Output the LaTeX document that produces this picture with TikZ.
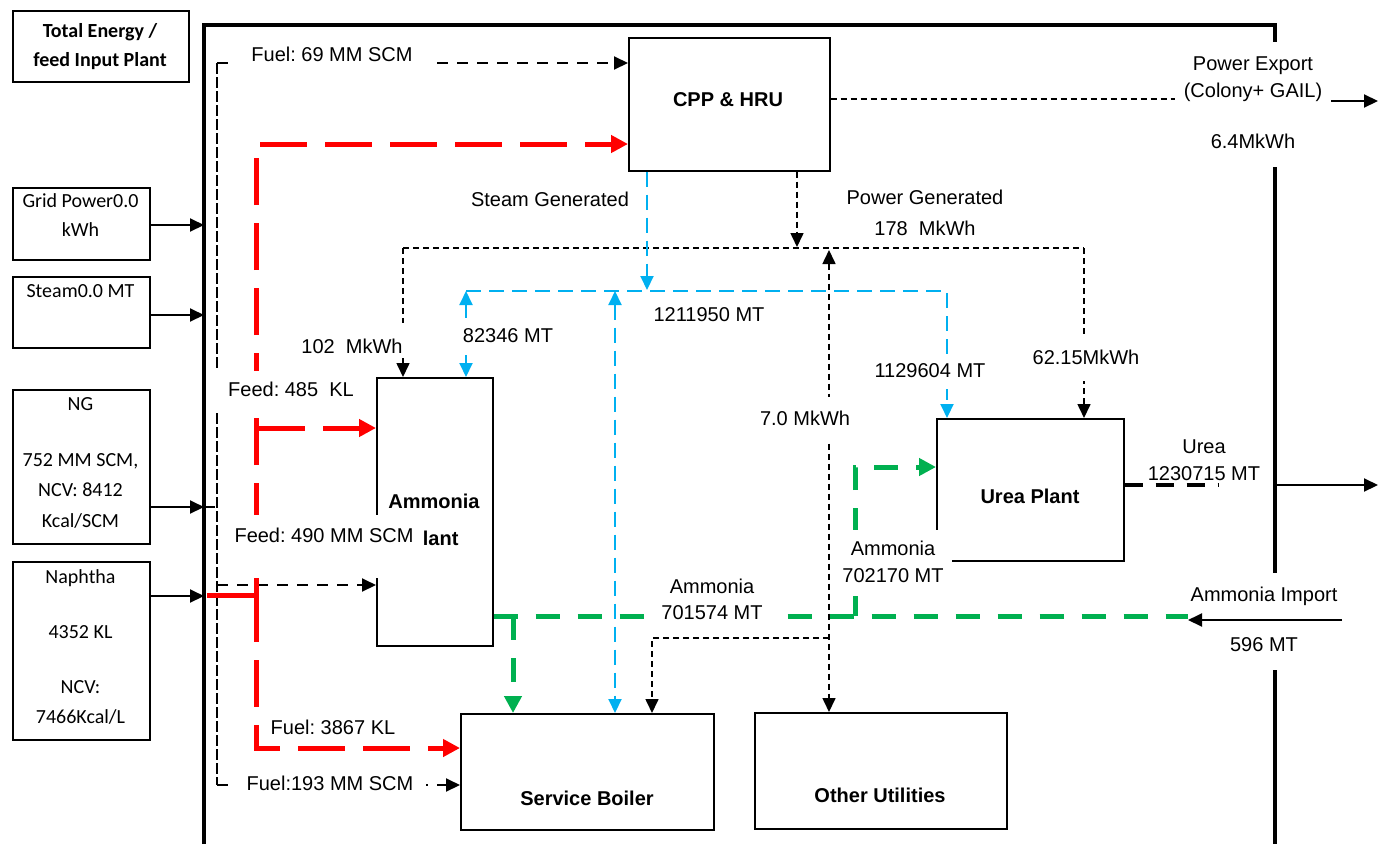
\documentclass[tikz,border=0pt]{standalone}
\usepackage{fontspec}
\setmainfont{Liberation Sans}
\newfontfamily\arifont{Liberation Sans}
\newfontfamily\calfont{Carlito}
\usetikzlibrary{arrows.meta}
\definecolor{xred}{RGB}{255,0,0}
\definecolor{xgreen}{RGB}{0,176,80}
\definecolor{xblue}{RGB}{0,176,240}
\newcommand\arif{\arifont\fontsize{20}{24}\selectfont}
\newcommand\calf{\calfont\fontsize{20}{24}\selectfont}
\frenchspacing
\begin{document}
\begin{tikzpicture}[x=1pt,y=-1pt,
  box/.style={draw, line width=1.6pt, inner sep=0pt},
  lab/.style={font=\arif, anchor=base, inner sep=2pt, text height=15pt, text depth=4pt},
  wl/.style={lab, fill=white},
  btxt/.style={font=\arif\bfseries, anchor=base, inner sep=0pt},
  ctxt/.style={font=\calf, anchor=base, inner sep=0pt},
  fuelh/.style={line width=2pt, dash pattern=on 11pt off 9pt},
  fuelv/.style={line width=1.3pt, dash pattern=on 11pt off 3pt},
  redl/.style={xred, line width=5pt, dash pattern=on 47pt off 18pt},
  grnl/.style={xgreen, line width=5pt, dash pattern=on 24pt off 18pt},
  blul/.style={xblue, line width=2pt, dash pattern=on 15pt off 8pt},
  pwrl/.style={line width=1.6pt, dash pattern=on 6pt off 4pt},
  prodl/.style={line width=4pt, dash pattern=on 18pt off 13pt},
  sol/.style={line width=2pt},
  ta/.style={-{Triangle[length=14pt,width=13pt]}},
  tb/.style={{Triangle[length=14pt,width=13pt]}-{Triangle[length=14pt,width=13pt]}},
  tA/.style={-{Triangle[length=17pt,width=17pt]}}
]
\useasboundingbox (0,0) rectangle (1378,844);

% ---------- frame ----------
\draw[line width=4pt] (204,844) -- (204,25) -- (1275,25) -- (1275,42);
\draw[line width=4pt] (1275,167) -- (1275,573);
\draw[line width=4pt] (1275,670) -- (1275,844);

% ---------- boxes ----------
\node[box, anchor=north west, minimum width=176pt, minimum height=71pt] (te) at (12,10) {};
\node[box, anchor=north west, minimum width=137pt, minimum height=72pt] (grid) at (12,187) {};
\node[box, anchor=north west, minimum width=137pt, minimum height=71pt] (stm) at (12,276) {};
\node[box, anchor=north west, minimum width=137pt, minimum height=154pt] (ng) at (12,389) {};
\node[box, anchor=north west, minimum width=137pt, minimum height=178pt] (nap) at (12,561) {};
\node[box, anchor=north west, minimum width=201pt, minimum height=133pt] (cpp) at (628,37) {};
\node[box, anchor=north west, minimum width=116pt, minimum height=268pt] (amm) at (376,377) {};
\node[box, anchor=north west, minimum width=187pt, minimum height=142pt] (urea) at (936,418) {};
\node[box, anchor=north west, minimum width=253pt, minimum height=116pt] (sb) at (460,713) {};
\node[box, anchor=north west, minimum width=252pt, minimum height=116pt] (ou) at (754,712) {};

% ---------- box texts ----------
\node[ctxt, font=\calf\bfseries] (t1) at (100,37) {Total Energy /};
\node[ctxt, font=\calf\bfseries] (t2) at (100,66) {feed Input Plant};
\node[ctxt] (g1) at (80.5,207) {Grid Power0.0};
\node[ctxt] (g2) at (80.5,236) {kWh};
\node[ctxt] (s1) at (80.5,297) {Steam0.0 MT};
\node[ctxt] (n1) at (80.5,410) {NG};
\node[ctxt] (n2) at (80.5,466) {752 MM SCM,};
\node[ctxt] (n3) at (80.5,496) {NCV: 8412};
\node[ctxt] (n4) at (80.5,527) {Kcal/SCM};
\node[ctxt] (p1) at (80.5,583) {Naphtha};
\node[ctxt] (p2) at (80.5,638) {4352 KL};
\node[ctxt] (p3) at (80.5,693) {NCV:};
\node[ctxt] (p4) at (80.5,723) {7466Kcal/L};
\node[btxt] (cpptx) at (728,106) {CPP \& HRU};
\node[btxt] (ammtx1) at (434,508) {Ammonia};
\node[btxt] (ammtx2) at (434,545) {Plant};
\node[btxt] (ureatx) at (1030,503) {Urea Plant};
\node[btxt] (sbtx) at (587,805) {Service Boiler};
\node[btxt] (outx) at (880,802) {Other Utilities};

% ---------- coordinates ----------
\coordinate (fg) at (204,225);
\coordinate (fs) at (204,315);
\coordinate (fng) at (204,507);
\coordinate (fn) at (204,596);
\coordinate (fv1) at (217,63);
\coordinate (fv2) at (217,585);
\coordinate (fv3) at (217,785);
\coordinate (ri) at (207,595);
\coordinate (rj) at (256,595);
\coordinate (rt) at (256,144);
\coordinate (rf) at (258,428);
\coordinate (rb) at (256,748);
\coordinate (pd) at (797,247);
\coordinate (ph1) at (403,248);
\coordinate (ph2) at (1084,248);
\coordinate (pu) at (829,250);
\coordinate (pb) at (829,638);
\coordinate (psb) at (652,638);
\coordinate (pe1) at (1175,99);
\coordinate (pe2) at (1331,101);
\coordinate (pe3) at (1378,101);
\coordinate (bs) at (647,290);
\coordinate (bh1) at (466,291);
\coordinate (bh2) at (947,291);
\coordinate (bm) at (615,291);
\coordinate (gj1) at (513,616);
\coordinate (gj2) at (855,616);
\coordinate (gu) at (855,467);
\coordinate (ge) at (1188,616);
\coordinate (ai) at (1342,620);
\coordinate (uo) at (1218,485);
\coordinate (ur1) at (1275,485);
\coordinate (ur2) at (1378,485);

% ---------- input arrows ----------
\draw[sol, ta] (grid.east |- fg) -- (fg);
\draw[sol, ta] (stm.east |- fs) -- (fs);
\draw[sol, ta] (ng.east |- fng) -- (fng);
\draw[sol, ta] (nap.east |- fn) -- (fn);

% ---------- natural gas (black dashed) ----------
\draw[fuelv] (fng) -- (fng -| fv1);
\draw[fuelv] (fv1) -- (fv3);
\draw[fuelh, ta] (fv1) -- (cpp.west |- fv1);
\draw[fuelh, ta] (fv2) -- (amm.west |- fv2);
\draw[fuelh, ta] (fv3) -- (sb.west |- fv3);

% ---------- naphtha (red) ----------
\draw[redl] (ri) -- (rj);
\draw[redl, tA] (rj) -- (rt) -- (cpp.west |- rt);
\draw[redl, tA] (rf) -- (amm.west |- rf);
\draw[redl, tA] (rj) -- (rb) -- (sb.west |- rb);

% ---------- power (black dashed) ----------
\draw[pwrl, ta] (cpp.south -| pd) -- (pd);
\draw[pwrl] (ph1) -- (ph2);
\draw[pwrl, ta] (ph1) -- (amm.north -| ph1);
\draw[pwrl, ta] (ph2) -- (urea.north -| ph2);
\draw[pwrl, tb] (pu) -- (ou.north -| pu);
\draw[pwrl, ta] (pb) -- (psb) -- (sb.north -| psb);
\draw[pwrl] (cpp.east |- pe1) -- (pe1);
\draw[sol, ta] (pe2) -- (pe3);

% ---------- steam (blue) ----------
\draw[blul, ta] (cpp.south -| bs) -- (bs);
\draw[blul, ta] (bh1) -- (bh2) -- (urea.north -| bh2);
\draw[blul, tb] (bh1) -- (amm.north -| bh1);
\draw[blul, tb] (bm) -- (sb.north -| bm);

% ---------- ammonia (green) ----------
\draw[grnl] (amm.east |- gj1) -- (ge);
\draw[grnl, tA] (gj1) -- (sb.north -| gj1);
\draw[grnl, tA] (gj2) -- (gu) -- (urea.west |- gu);
\draw[sol, ta] (ai) -- (ai -| ge);

% ---------- urea product ----------
\draw[prodl] (urea.east |- uo) -- (uo);
\draw[sol, ta] (ur1) -- (ur2);

% ---------- labels ----------
\node[wl, inner xsep=17pt] (l1) at (332,61) {Fuel: 69 MM SCM};
\node[wl, inner xsep=14pt, inner ysep=10pt] (l2) at (291,396) {Feed: 485~ KL};
\node[wl, inner xsep=10pt, inner ysep=12pt, text depth=24pt] (l3) at (324,542) {Feed: 490 MM SCM};
\node[wl] (l4) at (333,734) {Fuel: 3867 KL};
\node[wl, inner xsep=13pt] (l5) at (330,790) {Fuel:193 MM SCM};
\node[lab] (l6) at (550,206) {Steam Generated};
\node[lab] (l7) at (925,204) {Power Generated};
\node[lab] (l8) at (925,235) {178~ MkWh};
\node[lab] (l9) at (1253,70) {Power Export};
\node[lab] (l10) at (1253,97) {(Colony+ GAIL)};
\node[lab] (l11) at (1253,148) {6.4MkWh};
\node[wl, inner ysep=9pt] (l12) at (508,342) {82346 MT};
\node[wl] (l13) at (709,321) {1211950 MT};
\node[wl, inner ysep=13pt] (l14) at (805,425) {7.0 MkWh};
\node[wl, inner ysep=8pt] (l15) at (930,377) {1129604 MT};
\node[wl, inner ysep=13pt] (l16) at (1086,364) {62.15MkWh};
\node[wl, inner ysep=3pt, inner xsep=3pt, text height=27pt, text depth=0pt] (l17) at (352,353) {102~ MkWh};
\node[lab] (l18) at (1204,453) {Urea};
\node[lab] (l19) at (1204,480) {1230715 MT};
\node[wl, inner xsep=12pt, inner ysep=10pt] (l20) at (893,555) {Ammonia};
\node[wl, inner xsep=8pt, inner ysep=10pt] (l21) at (893,582) {702170 MT};
\node[wl, inner xsep=8pt] (l22) at (712,593) {Ammonia};
\node[wl, inner xsep=10pt] (l23) at (712,619) {701574 MT};
\node[lab] (l24) at (1264,601) {Ammonia Import};
\node[lab] (l25) at (1264,651) {596 MT};
\end{tikzpicture}
\end{document}
